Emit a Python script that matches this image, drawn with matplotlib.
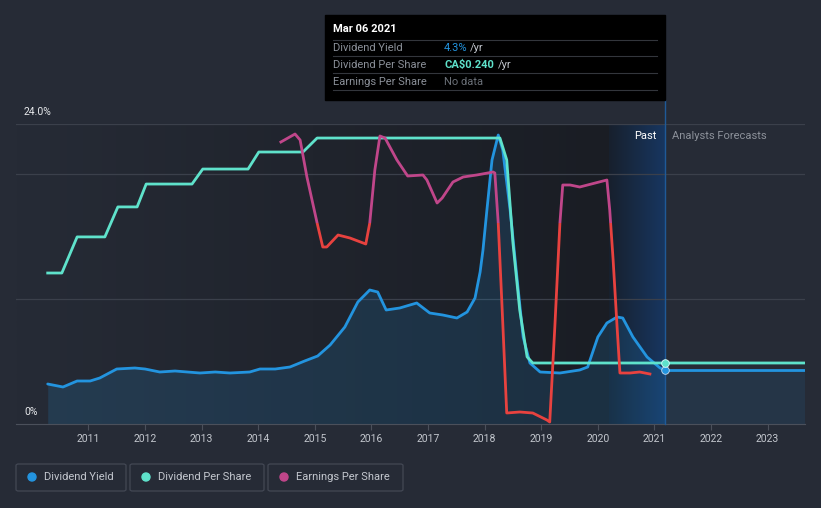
import numpy as np
import matplotlib
matplotlib.use("Agg")
import matplotlib.pyplot as plt
from matplotlib.colors import LinearSegmentedColormap
from matplotlib.patches import Rectangle, FancyBboxPatch

plt.rcParams['font.family'] = ['Roboto', 'DejaVu Sans']

# Dividend yield (%)
yield_year = [2010.28, 2010.55, 2010.80, 2011.03, 2011.20, 2011.50, 2011.82, 2012.00,
              2012.26, 2012.53, 2012.97, 2013.24, 2013.50, 2013.85, 2014.03, 2014.30,
              2014.56, 2014.82, 2015.05, 2015.27, 2015.53, 2015.76, 2015.97, 2016.11,
              2016.26, 2016.50, 2016.80, 2017.03, 2017.26, 2017.51, 2017.69, 2017.83,
              2017.92, 2017.97, 2018.04, 2018.13, 2018.24, 2018.32, 2018.45, 2018.57,
              2018.68, 2018.80, 2018.98, 2019.33, 2019.68, 2019.82, 2020.00, 2020.16,
              2020.34, 2020.44, 2020.62, 2020.87, 2021.10, 2021.18]
yield_pct = [3.20, 2.96, 3.44, 3.44, 3.68, 4.40, 4.48, 4.40,
             4.16, 4.24, 4.08, 4.16, 4.08, 4.16, 4.40, 4.40,
             4.56, 5.04, 5.44, 6.32, 7.76, 9.76, 10.72, 10.56,
             9.12, 9.28, 9.68, 8.88, 8.72, 8.48, 8.96, 10.08,
             12.16, 13.90, 17.12, 21.12, 23.12, 21.92, 17.12, 11.76,
             6.96, 4.88, 4.16, 4.08, 4.32, 4.56, 6.96, 8.08,
             8.56, 8.48, 6.96, 5.36, 4.48, 4.32]
yield_fc_year = [2021.18, 2023.66]
yield_fc = [4.32, 4.32]

# Dividend per share (CA$)
dps_year = [2010.28, 2010.53, 2010.80, 2011.29, 2011.52, 2011.86, 2012.02, 2012.83,
            2013.02, 2013.82, 2014.01, 2014.79, 2015.04, 2018.27, 2018.39, 2018.50,
            2018.62, 2018.75, 2018.85, 2021.18, 2023.66]
dps = [0.594, 0.594, 0.736, 0.736, 0.854, 0.854, 0.944, 0.944,
       1.003, 1.003, 1.070, 1.070, 1.125, 1.125, 1.039, 0.712,
       0.448, 0.264, 0.240, 0.240, 0.240]

# Earnings per share
eps_year = [2014.40, 2014.65, 2014.74, 2014.86, 2015.04, 2015.14, 2015.21, 2015.41,
            2015.62, 2015.90, 2015.97, 2016.06, 2016.15, 2016.24, 2016.45, 2016.64,
            2016.91, 2016.98, 2017.16, 2017.25, 2017.44, 2017.62, 2017.86, 2018.15,
            2018.18, 2018.24, 2018.31, 2018.39, 2018.62, 2018.85, 2019.10, 2019.15,
            2019.24, 2019.33, 2019.38, 2019.51, 2019.68, 2020.16, 2020.21, 2020.27,
            2020.34, 2020.39, 2020.57, 2020.74, 2020.92]
eps = [0.81, 0.89, 0.83, 0.46, 0.00, -0.24, -0.24, -0.12,
       -0.15, -0.21, 0.00, 0.53, 0.87, 0.85, 0.63, 0.47,
       0.48, 0.43, 0.20, 0.25, 0.41, 0.46, 0.48, 0.51,
       0.50, 0.00, -0.87, -1.90, -1.89, -1.90, -1.97, -1.99,
       -1.04, 0.00, 0.38, 0.38, 0.36, 0.43, 0.13, -0.37,
       -1.04, -1.50, -1.50, -1.49, -1.51]

years = list(range(2011, 2024))
now = 2021.18

BG = '#262b36'
BLUE = '#2394df'
TEAL = '#5fe2cb'
MAGENTA = '#c0468a'
RED = '#e8423f'
GRID = '#3b404b'

fig = plt.figure(figsize=(8.21, 5.08), dpi=100, facecolor=BG)
ax = fig.add_axes([16 / 821, 84 / 508, 789 / 821, 300 / 508])
ax.set_facecolor(BG)
x0, x1 = 2009.72, 2023.66

# past background gradient
cm_past = LinearSegmentedColormap.from_list('past', [BG, '#1a1d24'])
ax.imshow(np.linspace(0, 1, 256).reshape(1, -1), extent=[x0, 2020.2, 0, 24],
          aspect='auto', cmap=cm_past, zorder=0)
cm_band = LinearSegmentedColormap.from_list('band', ['#18202d', '#173660'])
ax.imshow(np.linspace(0, 1, 256).reshape(1, -1), extent=[2020.2, now, 0, 24],
          aspect='auto', cmap=cm_band, zorder=0)

for g in [10, 20, 24]:
    ax.axhline(g, color=GRID, lw=0.9, zorder=1)

ax.fill_between(yield_year, yield_pct, 0, color=BLUE, alpha=0.16, lw=0, zorder=2)
ax.fill_between(yield_fc_year, yield_fc, 0, color=BLUE, alpha=0.10, lw=0, zorder=2)
ax.plot(yield_year, yield_pct, color=BLUE, lw=2, zorder=5, solid_capstyle='round')
ax.plot(yield_fc_year, yield_fc, color=BLUE, lw=2, zorder=5)

ax.set_xlim(x0, x1)
ax.set_ylim(0, 24)

# dividend per share axis
ax2 = ax.twinx()
ax2.set_ylim(0, 300 / 254.2)
ax2.plot(dps_year, dps, color=TEAL, lw=2, zorder=4)

# earnings per share axis
ax3 = ax.twinx()
ax3.set_ylim(-2.01, 0.99)
l_pos, = ax3.plot(eps_year, eps, color=MAGENTA, lw=2)
l_neg, = ax3.plot(eps_year, eps, color=RED, lw=2)
l_pos.set_clip_path(Rectangle((x0, 0), x1 - x0, 5, transform=ax3.transData))
l_neg.set_clip_path(Rectangle((x0, -5), x1 - x0, 5, transform=ax3.transData))

for a in (ax2, ax3):
    a.set_xlim(x0, x1)
    a.axis('off')

# current markers
ax2.scatter([now], [0.240], s=30, color=TEAL, edgecolor='#dff', lw=0.6, zorder=8, clip_on=False)
ax.scatter([now], [4.32], s=30, color=BLUE, edgecolor='#cde', lw=0.6, zorder=8, clip_on=False)
ax.plot([now, now], [0, 25.92], color='#1f5a98', lw=1, clip_on=False, zorder=3)

# axes styling
for s in ['top', 'left', 'right']:
    ax.spines[s].set_visible(False)
ax.spines['bottom'].set_color('#4b505b')
ax.set_yticks([])
ax.set_xticks(years)
ax.set_xticklabels([str(y) for y in years])
ax.tick_params(axis='x', colors='#4b505b', labelcolor='#c3c7ce', labelsize=7.5,
               length=4, width=0.8, pad=3)

ax.text(24 / 821, (508 - 112) / 508, '24.0%', transform=fig.transFigure,
        color='#e6e8eb', fontsize=7.5, va='center', ha='left')
ax.text(24 / 821, (508 - 412) / 508, '0%', transform=fig.transFigure,
        color='#e6e8eb', fontsize=7.5, va='center', ha='left')
ax.text(656 / 821, (508 - 136) / 508, 'Past', transform=fig.transFigure,
        color='#ffffff', fontsize=8, va='center', ha='right')
ax.text(672 / 821, (508 - 136) / 508, 'Analysts Forecasts', transform=fig.transFigure,
        color='#8c919a', fontsize=8, va='center', ha='left')

# tooltip
def fx(px):
    return px / 821


def fy(py):
    return (508 - py) / 508


fig.patches.append(Rectangle((fx(325), fy(100)), fx(665) - fx(325), fy(15) - fy(100),
                             transform=fig.transFigure, facecolor='#000000',
                             edgecolor='#000000', zorder=10))
fig.text(fx(333), fy(29), 'Mar 06 2021', color='white', fontsize=8,
         fontweight='bold', va='center', zorder=11)
for sy in [40, 56, 73, 90]:
    fig.lines.append(plt.Line2D([fx(333), fx(657)], [fy(sy), fy(sy)],
                                transform=fig.transFigure, color='#33363c', lw=0.8, zorder=11))
rows = [('Dividend Yield', 48), ('Dividend Per Share', 65), ('Earnings Per Share', 82)]
for lab, ry in rows:
    fig.text(fx(333), fy(ry), lab, color='#8b9099', fontsize=8, va='center', zorder=11)
fig.text(fx(444), fy(48), '4.3%', color=BLUE, fontsize=8, va='center', zorder=11)
fig.text(fx(470), fy(48), '/yr', color='#c3c7ce', fontsize=8, va='center', zorder=11)
fig.text(fx(444), fy(65), r'CA\$0.240', color=TEAL, fontsize=8, va='center',
         fontweight='bold', zorder=11)
fig.text(fx(498), fy(65), '/yr', color='#c3c7ce', fontsize=8, va='center', zorder=11)
fig.text(fx(444), fy(82), 'No data', color='#6b7078', fontsize=8, va='center', zorder=11)

# legend boxes
legend = [('Dividend Yield', BLUE, 16, 126), ('Dividend Per Share', TEAL, 130, 264),
          ('Earnings Per Share', MAGENTA, 268, 403)]
for lab, col, bx0, bx1 in legend:
    fig.patches.append(FancyBboxPatch((fx(bx0), fy(491)), fx(bx1) - fx(bx0), fy(464) - fy(491),
                                      boxstyle='round,pad=0,rounding_size=0.003',
                                      transform=fig.transFigure, facecolor=BG,
                                      edgecolor='#434854', lw=0.9))
    fig.patches.append(matplotlib.patches.Ellipse((fx(bx0 + 16), fy(477)), 8 / 821, 8 / 508,
                                                  transform=fig.transFigure, color=col))
    fig.text(fx(bx0 + 28), fy(477.5), lab, color='#c3c7ce', fontsize=8, va='center')

fig.savefig('out.png', dpi=100, facecolor=BG)
